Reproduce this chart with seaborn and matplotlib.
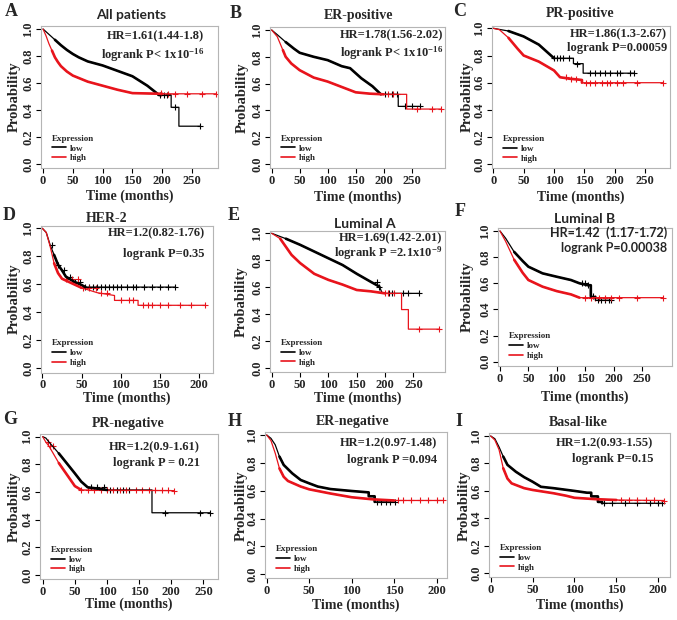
import numpy as np
import pandas as pd
import matplotlib
matplotlib.use('Agg')
import matplotlib.pyplot as plt
import seaborn as sns

# ---- survival curves (time in months, probability) ----
A_low_t = [0, 5, 10, 20, 30, 40, 50, 60, 75, 100, 125, 150, 175, 195, 215, 215, 228, 228, 264]
A_low_s = [1.0, 0.98, 0.96, 0.92, 0.88, 0.845, 0.815, 0.79, 0.76, 0.73, 0.69, 0.65, 0.58, 0.51,
           0.51, 0.42, 0.42, 0.28, 0.28]
A_low_c = [197, 203, 208, 221, 264]
A_high_t = [0, 5, 10, 15, 20, 25, 30, 40, 50, 75, 100, 125, 150, 200, 290]
A_high_s = [1.0, 0.95, 0.89, 0.84, 0.79, 0.755, 0.725, 0.685, 0.655, 0.61, 0.58, 0.55, 0.525, 0.52, 0.52]
A_high_c = [198, 209, 221, 241, 267, 290]

B_low_t = [0, 10, 25, 40, 50, 75, 100, 125, 140, 160, 180, 195, 226, 226, 264]
B_low_s = [1.0, 0.965, 0.91, 0.86, 0.83, 0.80, 0.775, 0.73, 0.715, 0.64, 0.58, 0.52, 0.52, 0.43, 0.43]
B_low_c = [202, 214, 223, 238, 250, 264]
B_high_t = [0, 10, 20, 25, 35, 50, 75, 100, 125, 150, 175, 200, 241, 241, 303]
B_high_s = [1.0, 0.95, 0.85, 0.80, 0.75, 0.70, 0.645, 0.615, 0.575, 0.535, 0.525, 0.52, 0.52, 0.41, 0.41]
B_high_c = [208, 217, 259, 286, 303]

C_low_t = [0, 25, 50, 75, 90, 100, 132, 132, 148, 148, 232]
C_low_s = [1.0, 0.98, 0.94, 0.88, 0.82, 0.78, 0.78, 0.74, 0.74, 0.67, 0.67]
C_low_c = [100, 105, 110, 115, 125, 138, 160, 168, 176, 184, 192, 203, 209, 225, 232]
C_high_t = [0, 10, 25, 40, 50, 75, 100, 110, 125, 146, 146, 280]
C_high_s = [1.0, 0.99, 0.93, 0.85, 0.80, 0.755, 0.69, 0.64, 0.63, 0.62, 0.60, 0.60]
C_high_c = [120, 128, 136, 152, 159, 168, 179, 187, 192, 203, 214, 236, 280]

D_low_t = [0, 5, 10, 15, 20, 25, 30, 40, 50, 55, 169]
D_low_s = [1.0, 0.97, 0.88, 0.81, 0.74, 0.70, 0.655, 0.62, 0.595, 0.58, 0.58]
D_low_c = [12, 20, 28, 35, 42, 48, 55, 60, 65, 70, 75, 80, 85, 90, 95, 100, 108, 115,
           120, 130, 140, 150, 160, 169]
D_high_t = [0, 5, 10, 15, 20, 25, 50, 70, 92, 92, 122, 122, 207]
D_high_s = [1.0, 0.97, 0.87, 0.75, 0.68, 0.64, 0.575, 0.54, 0.52, 0.485, 0.485, 0.45, 0.45]
D_high_c = [30, 38, 45, 52, 60, 68, 75, 82, 100, 110, 115, 128, 135, 140, 150, 160, 175, 190, 207]

E_low_t = [0, 25, 50, 75, 100, 125, 150, 175, 190, 195, 260]
E_low_s = [1.0, 0.96, 0.915, 0.865, 0.815, 0.765, 0.70, 0.64, 0.605, 0.555, 0.555]
E_low_c = [185, 190, 206, 212, 232, 241, 260]
E_high_t = [0, 15, 25, 35, 50, 75, 100, 125, 150, 175, 200, 229, 229, 241, 241, 295]
E_high_s = [1.0, 0.96, 0.90, 0.84, 0.78, 0.70, 0.655, 0.62, 0.58, 0.57, 0.555, 0.555, 0.435, 0.435,
            0.29, 0.29]
E_high_c = [200, 205, 215, 259, 295]

F_low_t = [0, 10, 25, 40, 50, 75, 100, 125, 140, 155, 160, 160, 168, 168, 195]
F_low_s = [1.0, 0.944, 0.84, 0.77, 0.727, 0.676, 0.65, 0.625, 0.60, 0.585, 0.585, 0.50, 0.50, 0.47, 0.47]
F_low_c = [145, 150, 155, 163, 172, 178, 185, 192, 195]
F_high_t = [0, 10, 25, 40, 50, 75, 100, 125, 140, 288]
F_high_s = [1.0, 0.92, 0.78, 0.68, 0.625, 0.574, 0.54, 0.515, 0.49, 0.49]
F_high_c = [150, 160, 168, 175, 185, 195, 210, 241, 288]

G_low_t = [0, 5, 10, 25, 50, 60, 70, 100, 170, 170, 260]
G_low_s = [1.0, 0.99, 0.96, 0.88, 0.735, 0.675, 0.634, 0.615, 0.615, 0.45, 0.45]
G_low_c = [75, 85, 95, 105, 115, 125, 135, 190, 245, 260]
G_high_t = [0, 5, 10, 25, 40, 50, 60, 204]
G_high_s = [1.0, 0.96, 0.93, 0.81, 0.71, 0.643, 0.615, 0.61]
G_high_c = [8, 12, 16, 60, 70, 80, 90, 100, 110, 120, 130, 145, 155, 165, 175, 185, 195, 204]

H_low_t = [0, 5, 10, 15, 20, 30, 40, 50, 60, 75, 100, 120, 120, 127, 127, 151]
H_low_s = [1.0, 0.976, 0.93, 0.845, 0.785, 0.725, 0.677, 0.653, 0.63, 0.612, 0.598, 0.588,
           0.56, 0.56, 0.52, 0.52]
H_low_c = [130, 135, 140, 145, 151]
H_high_t = [0, 5, 10, 15, 20, 25, 40, 50, 75, 100, 125, 150, 207]
H_high_s = [1.0, 0.96, 0.87, 0.76, 0.70, 0.67, 0.63, 0.61, 0.58, 0.553, 0.538, 0.53, 0.53]
H_high_c = [155, 160, 170, 180, 190, 200, 207]

I_low_t = [0, 5, 10, 15, 20, 30, 40, 50, 60, 75, 100, 115, 120, 120, 128, 128, 133, 133, 205]
I_low_s = [1.0, 0.98, 0.92, 0.85, 0.79, 0.74, 0.70, 0.667, 0.63, 0.62, 0.60, 0.587, 0.587,
           0.56, 0.56, 0.52, 0.52, 0.51, 0.51]
I_low_c = [135, 145, 160, 175, 190, 200, 205]
I_high_t = [0, 5, 10, 15, 20, 25, 40, 50, 75, 90, 100, 125, 150, 207]
I_high_s = [1.0, 0.97, 0.90, 0.765, 0.69, 0.655, 0.62, 0.607, 0.583, 0.565, 0.55, 0.54, 0.534, 0.53]
I_high_c = [155, 165, 175, 185, 195, 207]

letters = ['A', 'B', 'C', 'D', 'E', 'F', 'G', 'H', 'I']
titles = ['All patients', 'ER-positive', 'PR-positive', 'HER-2', 'Luminal A', 'Luminal B',
          'PR-negative', 'ER-negative', 'Basal-like']
hr_texts = ['HR=1.61(1.44-1.8)', 'HR=1.78(1.56-2.02)', 'HR=1.86(1.3-2.67)',
            'HR=1.2(0.82-1.76)', 'HR=1.69(1.42-2.01)', 'HR=1.42\u2002(1.17-1.72)',
            'HR=1.2(0.9-1.61)', 'HR=1.2(0.97-1.48)', 'HR=1.2(0.93-1.55)']
p_texts = ['logrank P< 1x10$^{-16}$', 'logrank P< 1x10$^{-16}$', 'logrank P=0.00059',
           'logrank P=0.35', 'logrank P =2.1x10$^{-9}$', 'logrank P=0.00038',
           'logrank P = 0.21', 'logrank P =0.094', 'logrank P=0.15']

curves = [
    (A_low_t, A_low_s, A_low_c, A_high_t, A_high_s, A_high_c),
    (B_low_t, B_low_s, B_low_c, B_high_t, B_high_s, B_high_c),
    (C_low_t, C_low_s, C_low_c, C_high_t, C_high_s, C_high_c),
    (D_low_t, D_low_s, D_low_c, D_high_t, D_high_s, D_high_c),
    (E_low_t, E_low_s, E_low_c, E_high_t, E_high_s, E_high_c),
    (F_low_t, F_low_s, F_low_c, F_high_t, F_high_s, F_high_c),
    (G_low_t, G_low_s, G_low_c, G_high_t, G_high_s, G_high_c),
    (H_low_t, H_low_s, H_low_c, H_high_t, H_high_s, H_high_c),
    (I_low_t, I_low_s, I_low_c, I_high_t, I_high_s, I_high_c),
]

# ---- layout in pixels: frame left/right, x-limits, y px of prob 1.0 and 0.0 ----
layout = [
    (41, 218, -3.4, 293.6, 29, 164), (270, 445, -3.0, 309.5, 30, 164), (492, 670, -2.1, 291, 28.3, 164.3),
    (41, 213, -1.7, 217.5, 228.3, 368.3), (270, 445, -3.0, 305.6, 233.3, 368.3), (498, 672, -3.5, 303, 231, 361.7),
    (40, 218, -4.2, 272.7, 436.7, 575), (265, 447, -2.0, 212.1, 435, 574.3), (489, 670, -2.0, 214, 436, 573.3),
]
YLO, YHI = -0.03, 1.02
xmax_tick = [250, 250, 250, 200, 250, 250, 250, 200, 200]
dense = [(200, 200), (200, 200), (100, 146), (55, 50), (190, 200), (160, 140), (100, 60), (127, 150), (133, 150)]
sans_title = [True, False, False, False, True, True, False, False, False]
sans_stats = [False, False, False, False, False, True, False, False, False]
hr_pos = [(204, 36, 55), (443, 35, 53), (667, 34, 48), (205, 233, 254), (442, 238, 253),
          (667, 233, 248), (200, 447, 463), (437, 443, 460), (653, 443, 459)]
title_pos = [(131, 15), (359, 15), (580, 14), (107, 219), (365, 224), (585, 219),
             (128, 423), (353, 422), (578, 423)]
letter_pos = [(5, 12), (230, 13), (453, 12), (3, 215), (228, 216), (455, 211),
              (3, 420), (228, 421), (455, 421)]
ylab_x = [14, 242, 467, 14, 241, 467, 14, 241, 464]
xlab_y = [196, 197, 197, 398, 398, 397, 604, 605, 605]

sns.set_style('ticks')
plt.rcParams['font.family'] = ['Liberation Serif', 'DejaVu Sans']
plt.rcParams['font.weight'] = 'bold'
plt.rcParams['axes.labelweight'] = 'bold'
plt.rcParams['mathtext.fontset'] = 'custom'
plt.rcParams['mathtext.rm'] = 'Liberation Serif:bold'
plt.rcParams['mathtext.it'] = 'Liberation Serif:bold'
plt.rcParams['mathtext.bf'] = 'Liberation Serif:bold'

LOW = '#000000'
HIGH = '#e8141c'
pal = {'low': LOW, 'high': HIGH}
SANS = ['Lato', 'DejaVu Sans']
SERIF = ['Liberation Serif', 'DejaVu Sans']

W, H = 677, 620
fig = plt.figure(figsize=(W / 100, H / 100), dpi=100)


def step_at(times, ts, ss):
    idx = np.searchsorted(np.asarray(ts), np.asarray(times), side='right') - 1
    return np.asarray(ss)[idx]


for i in range(9):
    low_t, low_s, low_c, high_t, high_s, high_c = curves[i]
    l, r, xlo, xhi, y1, y0 = layout[i]
    ppy = y0 - y1
    top = y1 - (YHI - 1) * ppy
    bot = y0 - YLO * ppy
    ax = fig.add_axes([l / W, 1 - bot / H, (r - l) / W, (bot - top) / H])

    df = pd.DataFrame({
        'Time': low_t + high_t,
        'Probability': low_s + high_s,
        'Expression': ['low'] * len(low_t) + ['high'] * len(high_t),
    })
    sns.lineplot(data=df, x='Time', y='Probability', hue='Expression', hue_order=['low', 'high'],
                 palette=pal, sort=False, estimator=None, lw=0.9, ax=ax)

    # thicker stretch where censor marks pile up on the curve
    for t, s, end, col in [(low_t, low_s, dense[i][0], LOW), (high_t, high_s, dense[i][1], HIGH)]:
        n0 = int(np.searchsorted(t, 12))
        n = int(np.searchsorted(t, end, side='right'))
        if n - n0 > 1:
            sns.lineplot(x=t[n0:n], y=s[n0:n], sort=False, estimator=None, color=col, lw=1.9, ax=ax)

    for c, t, s, col in [(low_c, low_t, low_s, LOW), (high_c, high_t, high_s, HIGH)]:
        sns.scatterplot(x=c, y=step_at(c, t, s), marker='+', color=col, s=18, linewidth=0.8,
                        ax=ax, legend=False)

    handles, labels = ax.get_legend_handles_labels()
    leg = ax.legend(handles[:2], labels[:2], title='Expression', loc='lower left',
                    bbox_to_anchor=(0.02, -0.01), frameon=False, fontsize=6.5,
                    title_fontsize=6.5, handlelength=1.6, handletextpad=0.4,
                    labelspacing=0.15, borderpad=0.3, alignment='left')
    for line in leg.get_lines():
        line.set_linewidth(1.2)

    ax.set_xlim(xlo, xhi)
    ax.set_ylim(YLO, YHI)
    ax.set_xticks(np.arange(0, xmax_tick[i] + 1, 50))
    ax.set_yticks([0, 0.2, 0.4, 0.6, 0.8, 1.0])
    ax.set_yticklabels(['0.0', '0.2', '0.4', '0.6', '0.8', '1.0'], rotation=90, va='center')
    ax.tick_params(axis='both', labelsize=9, length=3.5, width=0.8, color='black', pad=1.5)
    for sp in ax.spines.values():
        sp.set_color('#b5b5b5')
        sp.set_linewidth(0.8)

    ax.set_ylabel('Probability', fontsize=10.5, fontweight='bold', va='center')
    ax.yaxis.set_label_coords((ylab_x[i] - l) / (r - l), 0.5)
    ax.set_xlabel('Time (months)', fontsize=10, fontweight='bold', va='center')
    ax.xaxis.set_label_coords(0.5, -(xlab_y[i] - bot) / (bot - top))

    # title, panel letter and statistics
    tx, ty = title_pos[i]
    fig.text(tx / W, 1 - ty / H, titles[i], ha='center', va='center', fontsize=10,
             fontweight='bold', family=SANS if sans_title[i] else SERIF)
    lx, ly = letter_pos[i]
    fig.text(lx / W, 1 - ly / H, letters[i], ha='left', va='center', fontsize=13,
             fontweight='bold', family=SERIF)
    hx, hy1, hy2 = hr_pos[i]
    fam = SANS if sans_stats[i] else SERIF
    fig.text(hx / W, 1 - hy1 / H, hr_texts[i], ha='right', va='center', fontsize=9,
             fontweight='bold', family=fam)
    fig.text(hx / W, 1 - hy2 / H, p_texts[i], ha='right', va='center', fontsize=9,
             fontweight='bold', family=fam)

fig.savefig('out.png', dpi=100)
